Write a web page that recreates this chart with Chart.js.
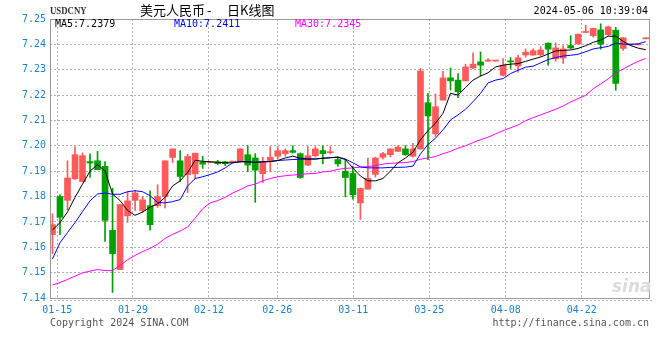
<!DOCTYPE html>
<html>
<head>
<meta charset="utf-8">
<script src="https://cdn.jsdelivr.net/npm/chart.js@4.4.1/dist/chart.umd.min.js"></script>
<style>
  body { margin: 0; background: #fff; }
  #wrap { position: relative; width: 660px; height: 360px; }
  .t { position: absolute; white-space: pre; font-family: "DejaVu Sans Mono", monospace; font-size: 10px; line-height: 12px; }
  .cjk { font-family: 'Noto Sans CJK SC', sans-serif; font-size: 13px; line-height: 15px; color: #000; top: 2px; }
</style>
</head>
<body>
<div id="wrap">
  <canvas id="kline" width="660" height="360"></canvas>
  <div class="t" style="left:50px;top:4px;font-family:'Liberation Serif',serif;font-size:11px;font-weight:bold;color:#333;transform:scaleX(0.8);transform-origin:left top;">USDCNY</div>
  <div class="t cjk" style="left:140px;">美元人民币</div>
  <div class="t cjk" style="left:207px;">-</div>
  <div class="t cjk" style="left:227px;">日K线图</div>
  <div class="t" style="right:12px;top:5px;color:#000;">2024-05-06 10:39:04</div>
  <div class="t" style="left:55px;top:18px;color:#000;">MA5:7.2379</div>
  <div class="t" style="left:174px;top:18px;color:#0000ff;">MA10:7.2411</div>
  <div class="t" style="left:295px;top:18px;color:#ff00ff;">MA30:7.2345</div>
  <div class="t" style="left:50px;top:317px;color:#555;">Copyright 2024 SINA.COM</div>
  <div class="t" style="right:11px;top:317px;color:#555;">http://finance.sina.com.cn</div>
  <div class="t" style="left:612px;top:276px;font-family:'DejaVu Sans',sans-serif;font-size:17px;line-height:20px;font-weight:bold;font-style:italic;color:#dcdcdc;">sina</div>
</div>
<script>
// daily candles, index 0 = 01-12 ... 79 = 05-06
const opens = [7.1650, 7.1800, 7.1785, 7.1870, 7.1859, 7.1938, 7.1941, 7.1919, 7.1667, 7.1512,
  7.1724, 7.1785, 7.1745, 7.1764, 7.1764, 7.1800, 7.1954, 7.1941, 7.1886, 7.1889,
  7.1937, 7.1934, 7.1937, 7.1937, 7.1936, 7.1937, 7.1965, 7.1952, 7.1890, 7.1942,
  7.1959, 7.1969, 7.1981, 7.1969, 7.1924, 7.1961, 7.1981, 7.1973, 7.1946, 7.1900,
  7.1891, 7.1775, 7.1829, 7.1887, 7.1955, 7.1965, 7.1978, 7.1988, 7.1959, 7.1988,
  7.2170, 7.2047, 7.2180, 7.2268, 7.2259, 7.2256, 7.2307, 7.2331, 7.2334, 7.2334,
  7.2278, 7.2335, 7.2315, 7.2358, 7.2358, 7.2359, 7.2405, 7.2343, 7.2346, 7.2395,
  7.2402, 7.2447, 7.2434, 7.2457, 7.2438, 7.2456, 7.2384, 7.2398, 7.2398, 7.2422];
const closes = [7.1689, 7.1718, 7.1873, 7.1965, 7.1961, 7.1932, 7.1906, 7.1706, 7.1575, 7.1768,
  7.1783, 7.1814, 7.1787, 7.1689, 7.1800, 7.1941, 7.1988, 7.1879, 7.1958, 7.1971,
  7.1928, 7.1936, 7.1930, 7.1930, 7.1939, 7.1988, 7.1924, 7.1904, 7.1937, 7.1955,
  7.1981, 7.1981, 7.1974, 7.1875, 7.1961, 7.1988, 7.1969, 7.1975, 7.1929, 7.1875,
  7.1807, 7.1832, 7.1872, 7.1952, 7.1969, 7.1988, 7.1995, 7.1965, 7.1988, 7.2295,
  7.2118, 7.2154, 7.2268, 7.2256, 7.2213, 7.2311, 7.2322, 7.2318, 7.2336, 7.2336,
  7.2318, 7.2331, 7.2347, 7.2369, 7.2375, 7.2378, 7.2381, 7.2386, 7.2382, 7.2386,
  7.2440, 7.2449, 7.2463, 7.2401, 7.2469, 7.2246, 7.2426, 7.2400, 7.2400, 7.2425];
const highs = [7.1732, 7.1807, 7.1941, 7.1997, 7.1972, 7.1968, 7.1978, 7.1938, 7.1833, 7.1768,
  7.1819, 7.1824, 7.1800, 7.1823, 7.1846, 7.1941, 7.1988, 7.1981, 7.1967, 7.1971,
  7.1959, 7.1937, 7.1943, 7.1939, 7.1939, 7.1989, 7.2001, 7.1969, 7.1955, 7.1997,
  7.1997, 7.1988, 7.2000, 7.1972, 7.1997, 7.1997, 7.2000, 7.1997, 7.1955, 7.1946,
  7.1920, 7.1834, 7.1952, 7.1955, 7.1974, 7.1988, 7.2001, 7.2001, 7.2010, 7.2305,
  7.2207, 7.2204, 7.2294, 7.2307, 7.2285, 7.2322, 7.2367, 7.2370, 7.2344, 7.2336,
  7.2344, 7.2348, 7.2357, 7.2382, 7.2382, 7.2391, 7.2406, 7.2406, 7.2395, 7.2434,
  7.2441, 7.2475, 7.2464, 7.2481, 7.2472, 7.2467, 7.2427, 7.2401, 7.2401, 7.2426];
const lows = [7.1575, 7.1650, 7.1748, 7.1868, 7.1858, 7.1875, 7.1905, 7.1623, 7.1422, 7.1512,
  7.1698, 7.1745, 7.1737, 7.1667, 7.1757, 7.1755, 7.1934, 7.1859, 7.1816, 7.1869,
  7.1911, 7.1933, 7.1926, 7.1922, 7.1936, 7.1935, 7.1898, 7.1777, 7.1855, 7.1897,
  7.1948, 7.1959, 7.1972, 7.1872, 7.1922, 7.1956, 7.1929, 7.1968, 7.1920, 7.1799,
  7.1790, 7.1710, 7.1829, 7.1877, 7.1948, 7.1956, 7.1978, 7.1962, 7.1955, 7.1985,
  7.1945, 7.2037, 7.2180, 7.2220, 7.2190, 7.2256, 7.2304, 7.2275, 7.2333, 7.2334,
  7.2276, 7.2305, 7.2290, 7.2350, 7.2356, 7.2353, 7.2318, 7.2334, 7.2325, 7.2383,
  7.2400, 7.2445, 7.2429, 7.2381, 7.2434, 7.2219, 7.2376, 7.2397, 7.2397, 7.2421];

const ma5 = [7.1668, 7.1697, 7.1739, 7.1797, 7.1849, 7.1900, 7.1926, 7.1900, 7.1810, 7.1784,
  7.1745, 7.1726, 7.1739, 7.1758, 7.1771, 7.1797, 7.1842, 7.1862, 7.1895, 7.1943,
  7.1939, 7.1937, 7.1935, 7.1933, 7.1933, 7.1937, 7.1937, 7.1935, 7.1937, 7.1938,
  7.1942, 7.1952, 7.1959, 7.1951, 7.1948, 7.1948, 7.1951, 7.1953, 7.1955, 7.1946,
  7.1913, 7.1881, 7.1862, 7.1862, 7.1871, 7.1900, 7.1933, 7.1952, 7.1975, 7.2024,
  7.2060, 7.2089, 7.2128, 7.2207, 7.2200, 7.2230, 7.2259, 7.2275, 7.2288, 7.2311,
  7.2318, 7.2322, 7.2324, 7.2333, 7.2342, 7.2350, 7.2362, 7.2374, 7.2376, 7.2378,
  7.2384, 7.2395, 7.2408, 7.2417, 7.2432, 7.2432, 7.2412, 7.2395, 7.2385, 7.2379];
const ma10 = [7.1554, 7.1618, 7.1658, 7.1697, 7.1741, 7.1783, 7.1810, 7.1814, 7.1809, 7.1809,
  7.1819, 7.1823, 7.1819, 7.1803, 7.1777, 7.1775, 7.1780, 7.1788, 7.1842, 7.1871,
  7.1878, 7.1887, 7.1897, 7.1913, 7.1933, 7.1938, 7.1937, 7.1934, 7.1937, 7.1938,
  7.1942, 7.1944, 7.1946, 7.1947, 7.1948, 7.1948, 7.1951, 7.1953, 7.1956, 7.1948,
  7.1933, 7.1917, 7.1913, 7.1913, 7.1913, 7.1915, 7.1915, 7.1916, 7.1920, 7.1968,
  7.2005, 7.2030, 7.2063, 7.2102, 7.2122, 7.2144, 7.2174, 7.2207, 7.2248, 7.2259,
  7.2265, 7.2285, 7.2298, 7.2310, 7.2314, 7.2327, 7.2340, 7.2348, 7.2354, 7.2357,
  7.2361, 7.2371, 7.2382, 7.2387, 7.2392, 7.2405, 7.2401, 7.2400, 7.2402, 7.2411];
const ma30 = [7.1451, 7.1461, 7.1473, 7.1486, 7.1499, 7.1506, 7.1512, 7.1508, 7.1508, 7.1529,
  7.1551, 7.1568, 7.1583, 7.1596, 7.1612, 7.1635, 7.1651, 7.1664, 7.1680, 7.1715,
  7.1752, 7.1775, 7.1784, 7.1797, 7.1814, 7.1827, 7.1842, 7.1849, 7.1862, 7.1871,
  7.1878, 7.1882, 7.1885, 7.1887, 7.1890, 7.1891, 7.1897, 7.1900, 7.1907, 7.1911,
  7.1913, 7.1916, 7.1918, 7.1922, 7.1928, 7.1931, 7.1933, 7.1934, 7.1938, 7.1947,
  7.1952, 7.1958, 7.1969, 7.1978, 7.1991, 7.2000, 7.2013, 7.2024, 7.2034, 7.2047,
  7.2060, 7.2071, 7.2082, 7.2099, 7.2111, 7.2122, 7.2133, 7.2144, 7.2157, 7.2173,
  7.2186, 7.2199, 7.2225, 7.2244, 7.2264, 7.2288, 7.2303, 7.2319, 7.2333, 7.2345];

// date ticks (in candle index units, as sina places them)
const tickLabels = ['01-15', '01-29', '02-12', '02-26', '03-11', '03-25', '04-08', '04-22'];
const tickAt = [0.64, 10.72, 20.84, 29.93, 40.05, 50.17, 60.35, 70.47];

const RED = '#ff5a5a';
const GREEN = '#00a000';
const AXIS_BLUE = '#1a82d0';
const GRID = '#b0b0b0';
const monoFont = { family: "'DejaVu Sans Mono', monospace", size: 10 };

const idx = opens.map((_, i) => i);
const candleColor = c => closes[c.dataIndex] >= opens[c.dataIndex] ? RED : GREEN;

const frame = {
    id: 'frame',
    afterDatasetsDraw(chart) {
        const { ctx, chartArea: a } = chart;
        ctx.save();
        ctx.strokeStyle = '#999';
        ctx.lineWidth = 1;
        ctx.strokeRect(a.left + 0.5, a.top + 0.5, a.right - a.left, a.bottom - a.top);
        // dotted line under the axis
        ctx.strokeStyle = GRID;
        ctx.setLineDash([2, 2]);
        ctx.beginPath();
        ctx.moveTo(a.left, a.bottom + 2.5);
        ctx.lineTo(a.right + 3, a.bottom + 2.5);
        ctx.stroke();
        ctx.restore();
    }
};

const maLine = (arr, color) => ({
    type: 'line',
    data: idx.map(i => ({ x: i, y: arr[i] })),
    borderColor: color,
    borderWidth: 1,
    pointRadius: 0,
    tension: 0,
    order: 0
});

new Chart(document.getElementById('kline'), {
    type: 'bar',
    data: {
        datasets: [
            maLine(ma5, '#000000'),
            maLine(ma10, '#0000ff'),
            maLine(ma30, '#ff00ff'),
            {
                // bodies
                data: idx.map(i => ({ x: i, y: [opens[i], closes[i]] })),
                backgroundColor: candleColor,
                grouped: false,
                barPercentage: 1,
                categoryPercentage: 1,
                maxBarThickness: 6,
                minBarLength: 1,
                order: 1
            },
            {
                // wicks
                data: idx.map(i => ({ x: i, y: [lows[i], highs[i]] })),
                backgroundColor: candleColor,
                grouped: false,
                barPercentage: 1,
                categoryPercentage: 1,
                maxBarThickness: 1,
                order: 2
            }
        ]
    },
    options: {
        responsive: false,
        animation: false,
        devicePixelRatio: 1,
        layout: { padding: { top: 19, right: 11, left: 0, bottom: 0 } },
        plugins: { legend: { display: false }, tooltip: { enabled: false } },
        scales: {
            x: {
                type: 'linear',
                min: -0.33,
                max: 79.43,
                offset: false,
                afterBuildTicks: s => { s.ticks = tickAt.map(v => ({ value: v })); },
                afterFit: s => { s.height = 62; },
                ticks: {
                    autoSkip: false,
                    maxRotation: 0,
                    padding: 6,
                    color: AXIS_BLUE,
                    font: monoFont,
                    callback: (v, i) => tickLabels[i]
                },
                grid: { color: GRID, lineWidth: 1, drawTicks: false, offset: false },
                border: { display: false, dash: [2, 2] }
            },
            y: {
                min: 7.14,
                max: 7.25,
                afterFit: s => { s.width = 50; },
                ticks: {
                    stepSize: 0.01,
                    padding: 4,
                    color: AXIS_BLUE,
                    font: monoFont,
                    callback: v => v.toFixed(2)
                },
                grid: { color: GRID, lineWidth: 1, drawTicks: false },
                border: { display: false, dash: [2, 2] }
            }
        }
    },
    plugins: [frame]
});
</script>
</body>
</html>
